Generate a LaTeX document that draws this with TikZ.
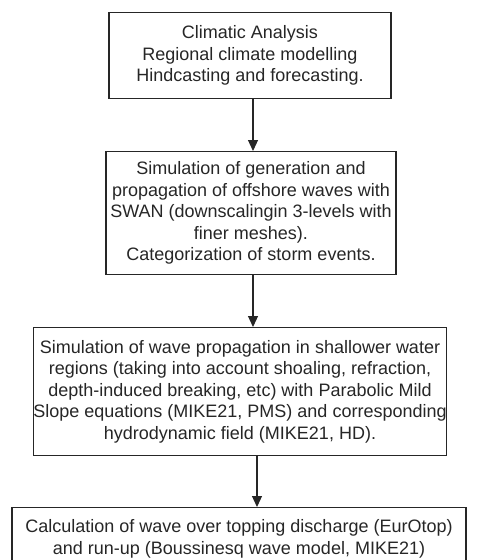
\documentclass[tikz,border=0pt]{standalone}
\usepackage{fontspec}
\setmainfont{Liberation Sans}
\usetikzlibrary{arrows.meta,calc}
\begin{document}
\begin{tikzpicture}[x=1pt,y=-1pt,
  box/.style={draw=black!85,line width=1.2pt,anchor=north,align=center,inner sep=0pt,
    font=\fontsize{18}{21.6}\selectfont,text=black!85},
  arr/.style={draw=black!85,line width=1.2pt,-{Triangle[length=11pt,width=10pt]}}]
\clip (0,0) rectangle (479,560);
\useasboundingbox (0,0) rectangle (479,560);
\node[box,minimum width=282pt,minimum height=86pt] (b1) at (250,12)
  {Climatic Analysis\\Regional climate modelling\\Hindcasting and forecasting.};
\node[box,minimum width=290pt,minimum height=123pt] (b2) at (251,151)
  {Simulation of generation and\\propagation of offshore waves with\\SWAN (downscalingin 3-levels with\\finer meshes).\\Categorization of storm events.};
\node[box,minimum width=406pt,minimum height=128pt] (b3) at (240,327)
  {Simulation of wave propagation in shallower water\\regions (taking into account shoaling, refraction,\\depth-induced breaking, etc) with Parabolic Mild\\Slope equations (MIKE21, PMS) and corresponding\\hydrodynamic field (MIKE21, HD).};
\node[box,minimum width=454pt,minimum height=62pt] (b4) at (239,507)
  {Calculation of wave over topping discharge (EurOtop)\\and run-up (Boussinesq wave model, MIKE21)};
\coordinate (x1) at (253,0);
\coordinate (x3) at (257,0);
\draw[arr] (b1.south -| x1) -- (b2.north -| x1);
\draw[arr] (b2.south -| x1) -- (b3.north -| x1);
\draw[arr] (b3.south -| x3) -- (b4.north -| x3);
\end{tikzpicture}
\end{document}
